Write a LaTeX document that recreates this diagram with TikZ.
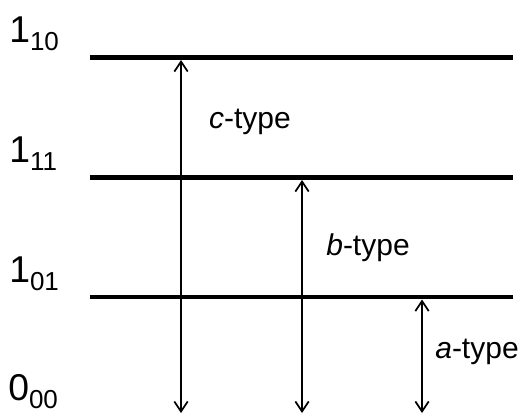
\documentclass[tikz,border=0pt]{standalone}
\usepackage{fontspec}
\setmainfont{Liberation Sans}
\usetikzlibrary{arrows.meta}
\tikzset{
  level/.style={line width=3.6pt},
  trans/.style={line width=1.3pt,{Straight Barb[length=7.5pt,width=10pt,line width=1.3pt]}-{Straight Barb[length=7.5pt,width=10pt,line width=1.3pt]}},
  lvlabel/.style={anchor=base west,inner sep=0pt,font=\fontsize{28}{28}\selectfont},
  typelabel/.style={anchor=base,inner sep=0pt,font=\fontsize{22.5}{23}\selectfont}
}
\newcommand{\lsub}[1]{\raisebox{-6.5pt}{\fontsize{19.5}{20}\selectfont #1}}
\begin{document}
\begin{tikzpicture}[x=0.75pt,y=-0.75pt]
\useasboundingbox (0,0) rectangle (520,414);
% level lines
\coordinate (L1a) at (90,57.5);  \coordinate (L1b) at (513,57.5);
\coordinate (L2a) at (90,177.5); \coordinate (L2b) at (513,177.5);
\coordinate (L3a) at (90,297);   \coordinate (L3b) at (513,297);
\draw[level] (L1a) -- (L1b);
\draw[level] (L2a) -- (L2b);
\draw[level] (L3a) -- (L3b);
% transitions
\coordinate (cT) at (181,60);  \coordinate (cB) at (181,413);
\coordinate (bT) at (302,180); \coordinate (bB) at (302,413);
\coordinate (aT) at (422,299.5); \coordinate (aB) at (422,413);
\draw[trans] (cT) -- (cB);
\draw[trans] (bT) -- (bB);
\draw[trans] (aT) -- (aB);
% level labels
\node[lvlabel] (l110) at (9,42) {1\lsub{10}};
\node[lvlabel] (l111) at (9,162) {1\lsub{11}};
\node[lvlabel] (l101) at (9,282) {1\lsub{01}};
\node[lvlabel] (l000) at (8,400) {0\lsub{00}};
% type labels
\node[typelabel] (ct) at (250,128) {\textit{c}-type};
\node[typelabel] (bt) at (368,255) {\textit{b}-type};
\node[typelabel] (at) at (477,358) {\textit{a}-type};
\end{tikzpicture}
\end{document}
